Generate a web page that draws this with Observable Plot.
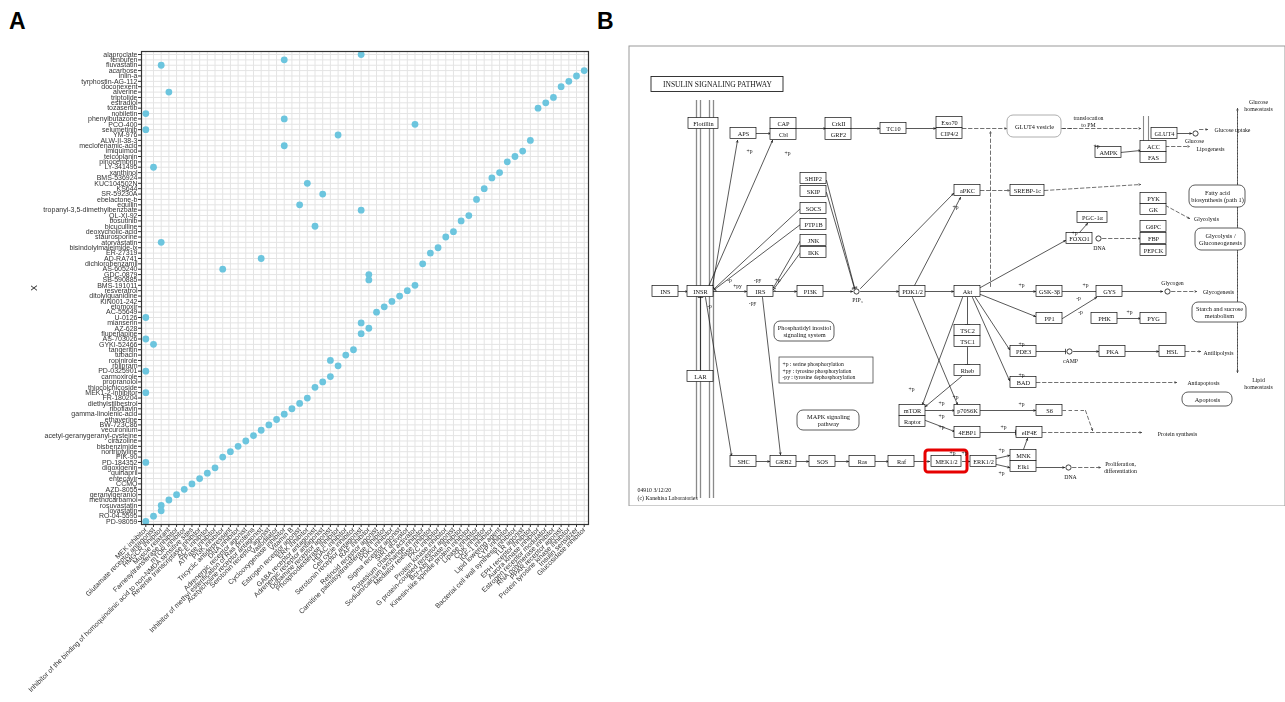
<!DOCTYPE html>
<html>
<head>
<meta charset="utf-8">
<script src="https://cdn.jsdelivr.net/npm/d3@7"></script>
<script src="https://cdn.jsdelivr.net/npm/@observablehq/plot@0.6"></script>
<style>
  html, body { margin: 0; padding: 0; background: #fff; }
  body { width: 1285px; height: 702px; position: relative; overflow: hidden; font-family: "Liberation Sans", Arial, sans-serif; }
  .panel-label { position: absolute; font-weight: bold; font-size: 23px; font-family: "Liberation Sans", Arial, sans-serif; }
  #A { position: absolute; left: 0; top: 0; will-change: transform; }
  #B { position: absolute; left: 628px; top: 45px; will-change: transform; }
  .ytitle { position: absolute; left: 31px; top: 283px; font-size: 9px; transform: rotate(-90deg); color: #222; }
</style>
</head>
<body>
<div class="panel-label" style="left:9px; top:8px;">A</div>
<div class="panel-label" style="left:597px; top:8px;">B</div>
<div id="A"></div>
<div class="ytitle">X</div>
<div id="B"></div>
<script>
// ---------------- Panel A data ----------------
const drugs = [
  "alaproclate","fenbufen","fluvastatin","acarbose","inlin-a","tyrphostin-AG-112","doconexent","alverine",
  "triptolide","estradiol","tozasertib","nobiletin","phenylbutazone","PCO-400","selumetinib","YM-976",
  "ALW-II-38-3","meclofenamic-acid","imiquimod","teicoplanin","pinocembrin","LY-341495","xanthinol","BMS-536924",
  "KUC104502N","KS644","SR-59230A","ebelactone-b","equilin","tropanyl-3,5-dimethylbenzoate","QL-XI-92","bosutinib",
  "bicuculline","deoxycholic-acid","staurosporine","atorvastatin","bisindolylmaleimide-ix","ER-27319","AD-RA741","dichlorobenzamil",
  "AS-605240","GDC-0879","SB-590885","BMS-191011","resveratrol","ditolylguanidine","KIN001-242","etomoxir",
  "AC-55649","U-0126","mianserin","AZ-628","fluperlapine","AS-703026","GYKI-52466","tangeritin",
  "tubacin","ropinirole","rolipram","PD-0325901","carmoxirole","propranolol","thiocolchicoside","MEK1-2-inhibitor",
  "FR-180204","diethylstilbestrol","riboflavin","gamma-linolenic-acid","ethaverine","BW-723C86","vecuronium","acetyl-geranygeranyl-cysteine",
  "cirazoline","bisbenzimide","nortriptyline","PIK-90","PD-184352","digoxigenin","quinapril","entecavir",
  "CCMQ","AZD-8055","geranylgeraniol","methocarbamol","rosuvastatin","lovastatin","RO-04-5595","PD-98059"
];
const moaClasses = [
  "MEK inhibitor","Glutamate receptor antagonist","HMGCR inhibitor","Muscle relaxant","Farnesyltransferase inhibitor",
  "mTOR inhibitor","Inhibitor of the binding of homoquinolinic acid to non-NMDA sensitive sites","Reverse transcriptase inhibitor",
  "ACE inhibitor","ATPase inhibitor","PI3K inhibitor","Tricyclic antidepressant","DNA inhibitor","Adrenergic receptor agonist",
  "Inhibitor of methyl esterification of Ras proteins","Acetylcholine receptor antagonist","Serotonin receptor agonist",
  "Vasodilator","Cyclooxygenase inhibitor","Vitamin B","Estrogen receptor agonist","ERK inhibitor","GABA receptor antagonist",
  "Adrenergic receptor antagonist","Dopamine receptor agonist","Phosphodiesterase inhibitor","HDAC inhibitor","Cell cycle inhibitor",
  "Serotonin receptor antagonist","RAF inhibitor","Retinoid receptor agonist","Carnitine palmitoyltransferase inhibitor",
  "PDK1 inhibitor","Sigma receptor agonist","SIRT activator","Potassium channel activator","Sodium/calcium exchange inhibitor",
  "Mediator release inhibitor","PKC inhibitor","Protein kinase inhibitor","G protein-coupled receptor agonist",
  "Bcr-Abl kinase inhibitor","Kinesin-like spindle protein inhibitor","Lipase inhibitor","CDK inhibitor","IGF-1 inhibitor",
  "Lipid lowering agent","CYP inhibitor","Bacterial cell wall synthesis inhibitor","TLR agonist","EPH receptor inhibitor",
  "Aurora kinase inhibitor","Estrogen receptor modulator","RNA polymerase inhibitor","PPAR receptor agonist",
  "Protein tyrosine kinase inhibitor","Insulin sensitizer","Glucosidase inhibitor"
];
// index of MoA class (column) for each drug, same order as drugs
const drugMoaIndex = [
  [28],[18],[2],[57],[56],[55],[54],[3],
  [53],[52],[51],[0],[18],[35],[0],[25],
  [50],[18],[49],[48],[47],[1],[46],[45],
  [21],[44],[23],[43],[20],[28],[42],[41],
  [22],[40],[39],[2],[38],[37],[15],[36],
  [10],[29],[29],[35],[34],[33],[32],[31],
  [30],[0],[28],[29],[28],[0],[1],[27],
  [26],[24],[25],[0],[24],[23],[22],[0],
  [21],[20],[19],[18],[17],[16],[15],[14],
  [13],[12],[11],[10],[0],[9],[8],[7],
  [6],[5],[4],[3],[2],[2],[1],[0]
];
const hits = drugs.flatMap((d, i) => drugMoaIndex[i].map(j => ({drug: d, moa: moaClasses[j]})));

const chartA = Plot.plot({
  width: 600, height: 702,
  marginLeft: 141, marginRight: 12, marginTop: 51, marginBottom: 178,
  style: {fontFamily: "'Liberation Sans', Arial, sans-serif", fontSize: "7px", color: "#333", background: "transparent"},
  x: {type: "point", domain: moaClasses, padding: 0.56},
  y: {type: "point", domain: drugs, padding: 0.56},
  marks: [
    Plot.gridX({stroke: "#e4e4e4", strokeOpacity: 1, strokeWidth: 1}),
    Plot.gridY({stroke: "#e4e4e4", strokeOpacity: 1, strokeWidth: 1}),
    Plot.axisX({anchor: "bottom", tickRotate: -45, tickSize: 3, tickPadding: 1, fontSize: 7, label: null}),
    Plot.axisY({anchor: "left", tickSize: 3, tickPadding: 1, fontSize: 7, label: null}),
    Plot.dot(hits, {x: "moa", y: "drug", r: 3.4, fill: "#6cc5de"}),
    Plot.frame({stroke: "#333", strokeWidth: 1.2})
  ]
});
document.getElementById("A").append(chartA);

// ---------------- Panel B data (KEGG map coordinates) ----------------
const genes = [
  {n:"Flotillin",x:703,y:123,w:30},{n:"APS",x:743,y:133},{n:"CAP",x:783,y:123},{n:"Cbl",x:783,y:134},
  {n:"CrkII",x:838,y:123},{n:"GRF2",x:838,y:134},{n:"TC10",x:893,y:128},{n:"Exo70",x:949,y:122},{n:"CIP4/2",x:949,y:133},
  {n:"GLUT4",x:1164,y:133},{n:"AMPK",x:1108,y:152},{n:"ACC",x:1153,y:146},{n:"FAS",x:1153,y:157},
  {n:"PYK",x:1153,y:198},{n:"GK",x:1153,y:209},{n:"G6PC",x:1153,y:226},{n:"FBP",x:1153,y:238},{n:"PEPCK",x:1153,y:250},
  {n:"SHIP2",x:813,y:178},{n:"SKIP",x:813,y:191},{n:"SOCS",x:813,y:208},{n:"PTP1B",x:813,y:224},{n:"JNK",x:813,y:240},{n:"IKK",x:813,y:252},
  {n:"aPKC",x:967,y:190},{n:"SREBP-1c",x:1027,y:190,w:34},{n:"PGC-1α",x:1092,y:217,w:30},{n:"FOXO1",x:1079,y:238},
  {n:"INS",x:665,y:291},{n:"INSR",x:700,y:291},{n:"IRS",x:760,y:291},{n:"PI3K",x:810,y:291},{n:"PDK1/2",x:912,y:291},
  {n:"Akt",x:967,y:291},{n:"GSK-3β",x:1049,y:291},{n:"GYS",x:1109,y:291},
  {n:"PP1",x:1049,y:318},{n:"PHK",x:1104,y:318},{n:"PYG",x:1153,y:318},
  {n:"TSC2",x:967,y:330},{n:"TSC1",x:967,y:341},{n:"Rheb",x:967,y:370},
  {n:"PDE3",x:1023,y:351},{n:"PKA",x:1112,y:351},{n:"HSL",x:1172,y:351},
  {n:"LAR",x:700,y:376},{n:"BAD",x:1023,y:382},
  {n:"mTOR",x:912,y:410},{n:"Raptor",x:912,y:421},{n:"p70S6K",x:967,y:410},{n:"S6",x:1049,y:410},
  {n:"4EBP1",x:967,y:432},{n:"eIF4E",x:1029,y:432},
  {n:"SHC",x:743,y:461},{n:"GRB2",x:783,y:461},{n:"SOS",x:822,y:461},{n:"Ras",x:862,y:461},{n:"Raf",x:901,y:461},
  {n:"MEK1/2",x:946,y:461,w:30},{n:"ERK1/2",x:983,y:461},{n:"MNK",x:1023,y:455},{n:"Elk1",x:1023,y:466}
];
const mapBoxes = [
  {t:"GLUT4 vesicle",x:1034,y:126,w:54,h:22,c:"#999"},
  {t:"Fatty acid\nbiosynthesis (path 1)",x:1217,y:196,w:56,h:22,c:"#333"},
  {t:"Glycolysis /\nGluconeogenesis",x:1220,y:239,w:50,h:22,c:"#333"},
  {t:"Starch and sucrose\nmetabolism",x:1219,y:312,w:54,h:20,c:"#333"},
  {t:"Phosphatidyl inositol\nsignaling system",x:804,y:331,w:60,h:20,c:"#333"},
  {t:"Apoptosis",x:1207,y:399,w:50,h:14,c:"#333"},
  {t:"MAPK signaling\npathway",x:828,y:420,w:62,h:20,c:"#333"}
];
const compounds = [
  {t:"Glucose",x:1195,y:133,lx:1194,ly:141},{t:"PIP₃",x:856,y:291,lx:857,ly:300},
  {t:"DNA",x:1098,y:238,lx:1099,ly:248},{t:"Glycogen",x:1167,y:291,lx:1172,ly:283},
  {t:"cAMP",x:1069,y:351,lx:1070,ly:361},{t:"DNA",x:1068,y:467,lx:1070,ly:477}
];
const mapTexts = [
  {t:"translocation\nto PM",x:1088,y:121},{t:"Glucose uptake",x:1232,y:129},{t:"Glucose\nhomeostasis",x:1258,y:105},
  {t:"Lipogenesis",x:1210,y:148},{t:"Glycolysis",x:1206,y:218},{t:"Glycogenesis",x:1218,y:291},
  {t:"Antilipolysis",x:1218,y:352},{t:"Antiapoptosis",x:1203,y:382},{t:"Protein synthesis",x:1177,y:433},
  {t:"Proliferation,\ndifferentiation",x:1120,y:467},{t:"Lipid\nhomeostasis",x:1258,y:383}
];
const phosLabels = [
  {t:"+p",x:749,y:151},{t:"+p",x:787,y:153},{t:"+p",x:955,y:207},{t:"-p",x:729,y:280},{t:"+py",x:737,y:286},
  {t:"-py",x:757,y:280},{t:"+p",x:777,y:280},{t:"-py",x:752,y:303},{t:"-p",x:709,y:306},
  {t:"+p",x:1021,y:285},{t:"+p",x:1085,y:285},{t:"-p",x:1078,y:298},{t:"-p",x:1080,y:312},{t:"+p",x:1129,y:312},
  {t:"+p",x:1021,y:344},{t:"+p",x:1021,y:375},{t:"+p",x:1074,y:233},{t:"+p",x:1096,y:146},
  {t:"+p",x:941,y:403},{t:"+p",x:941,y:416},{t:"+p",x:941,y:427},{t:"+p",x:1021,y:404},{t:"+p",x:1003,y:427},
  {t:"+p",x:952,y:453},{t:"+p",x:964,y:453},{t:"+p",x:1001,y:473},{t:"+p",x:1001,y:450},{t:"+p",x:911,y:389},{t:"+p",x:955,y:397}
];
const activations = [
  [678,291,687,291],[713,291,746,291],[773,291,796,291],[823,291,852,291],[860,291,898,291],[925,291,953,291],
  [980,291,1035,291],[1121,291,1162,291],[712,286,737,140],[708,286,772,140],[755,133,770,133],[796,128,825,128],
  [851,128,879,128],[906,128,935,128],[1177,133,1191,133],[1120,152,1140,150],[860,288,953,193],[914,285,960,197],
  [980,287,1065,240],[1079,232,1087,223],[975,297,1009,349],[972,297,1009,380],[1073,351,1098,351],[1125,351,1158,351],
  [1117,318,1140,318],[980,294,1035,316],[961,376,925,406],[962,297,922,404],[925,410,954,410],[925,420,954,431],
  [980,410,1035,410],[756,461,769,461],[796,461,808,461],[835,461,848,461],[875,461,888,461],[914,461,929,461],
  [962,461,969,461],[996,458,1009,455],[996,464,1009,467],[1023,449,1027,438],[1036,467,1064,467],
  [705,297,731,455],[762,297,780,454],[912,297,957,404],[1062,318,1096,297]
];
const inhibitions = [
  [1062,291,1096,291],[1036,351,1065,351],[967,297,967,324],[967,347,967,364],[980,432,1015,432],
  [826,180,854,287],[826,192,854,288],[800,208,714,288],[800,224,714,289],[800,240,773,287],[800,252,773,289],
  [700,370,700,297]
];
const indirect = [
  [962,128,1006,128],[1061,128,1140,128],[1199,129,1207,129],[980,190,1009,190],[1044,190,1140,184],
  [1165,146,1189,146],[1165,205,1189,218],[1102,238,1140,238],[1171,291,1196,291],[1185,351,1200,351],
  [1036,382,1176,382],[1042,432,1141,432],[1072,467,1100,467],[990,286,990,131],[1237,372,1237,108],
  [1237,108,1237,372],[1085,410,1092,430]
];
const indirectPlain = [[1062,410,1085,410],[1062,128,1072,128]];
const membraneX = [696, 700, 709, 713];
const glutMembraneX = [1143, 1148];
const titleBox = [{t:"INSULIN SIGNALING PATHWAY", x:717, y:84, w:132, h:15}];
const legendBox = [{t:"+p : serine phosphorylation\n+py : tyrosine phosphorylation\n-py : tyrosine dephosphorylation", x:826, y:370, w:94, h:26}];
const highlight = [{n:"MEK1/2", x:946, y:461, w:42, h:22}];
const footer = [{t:"04910 3/12/20\n(c) Kanehisa Laboratories", x:637, y:493}];

const seg = a => a.map(([x1,y1,x2,y2]) => ({x1,y1,x2,y2}));
const serif = "'Liberation Serif', 'DejaVu Serif', serif";

const chartB = Plot.plot({
  width: 657, height: 461, margin: 0,
  style: {background: "transparent", fontFamily: serif},
  x: {domain: [628, 1285], range: [0, 657], axis: null},
  y: {domain: [45, 506], range: [0, 461], axis: null},
  marks: [
    Plot.frame({stroke: "#9a9a9a", strokeWidth: 1, inset: 0.5}),
    Plot.ruleX(membraneX, {x: d => d, y1: 100, y2: 498, stroke: "#8a8a8a", strokeWidth: 1.3}),
    Plot.ruleX(glutMembraneX, {x: d => d, y1: 116, y2: 146, stroke: "#8a8a8a", strokeWidth: 1.1}),
    Plot.rect(titleBox, {x1: d => d.x - d.w/2, x2: d => d.x + d.w/2, y1: d => d.y - d.h/2, y2: d => d.y + d.h/2, fill: "white", stroke: "#222", strokeWidth: 0.9}),
    Plot.text(titleBox, {x: "x", y: "y", text: "t", fontSize: 7.5, fill: "#111"}),
    Plot.arrow(seg(activations), {x1: "x1", y1: "y1", x2: "x2", y2: "y2", stroke: "#111", strokeWidth: 0.7, headLength: 4, headAngle: 45}),
    Plot.arrow(seg(inhibitions), {x1: "x1", y1: "y1", x2: "x2", y2: "y2", stroke: "#111", strokeWidth: 0.7, headLength: 5, headAngle: 180}),
    Plot.arrow(seg(indirect), {x1: "x1", y1: "y1", x2: "x2", y2: "y2", stroke: "#333", strokeWidth: 0.7, strokeDasharray: "3.5,2.5", headLength: 4, headAngle: 45}),
    Plot.link(seg(indirectPlain), {x1: "x1", y1: "y1", x2: "x2", y2: "y2", stroke: "#333", strokeWidth: 0.7, strokeDasharray: "3.5,2.5"}),
    Plot.rect(mapBoxes, {x1: d => d.x - d.w/2, x2: d => d.x + d.w/2, y1: d => d.y - d.h/2, y2: d => d.y + d.h/2, rx: 6, fill: "white", stroke: d => d.c, strokeWidth: 0.8}),
    Plot.text(mapBoxes, {x: "x", y: "y", text: "t", fontSize: 6.3, lineHeight: 1.15, fill: "#111"}),
    Plot.rect(legendBox, {x1: d => d.x - d.w/2, x2: d => d.x + d.w/2, y1: d => d.y - d.h/2, y2: d => d.y + d.h/2, fill: "white", stroke: "#333", strokeWidth: 0.7}),
    Plot.text(legendBox, {x: d => d.x - d.w/2 + 3, y: "y", text: "t", textAnchor: "start", fontSize: 5.6, lineHeight: 1.2, fill: "#111"}),
    Plot.rect(genes, {x1: d => d.x - (d.w || 26)/2, x2: d => d.x + (d.w || 26)/2, y1: d => d.y - 5.5, y2: d => d.y + 5.5, fill: "white", stroke: "#111", strokeWidth: 0.7}),
    Plot.text(genes, {x: "x", y: "y", text: "n", fontSize: 6.3, fill: "#111"}),
    Plot.rect(highlight, {x1: d => d.x - d.w/2, x2: d => d.x + d.w/2, y1: d => d.y - d.h/2, y2: d => d.y + d.h/2, rx: 3, fill: "none", stroke: "#e60000", strokeWidth: 3}),
    Plot.dot(compounds, {x: "x", y: "y", r: 2.6, fill: "white", stroke: "#111", strokeWidth: 0.8}),
    Plot.text(compounds, {x: "lx", y: "ly", text: "t", fontSize: 5.8, fill: "#111"}),
    Plot.text(mapTexts, {x: "x", y: "y", text: "t", fontSize: 5.8, lineHeight: 1.2, fill: "#111"}),
    Plot.text(phosLabels, {x: "x", y: "y", text: "t", fontSize: 5.6, fill: "#111"}),
    Plot.text(footer, {x: "x", y: "y", text: "t", textAnchor: "start", fontSize: 5.8, lineHeight: 1.3, fill: "#111"})
  ]
});
document.getElementById("B").append(chartB);
</script>
</body>
</html>
